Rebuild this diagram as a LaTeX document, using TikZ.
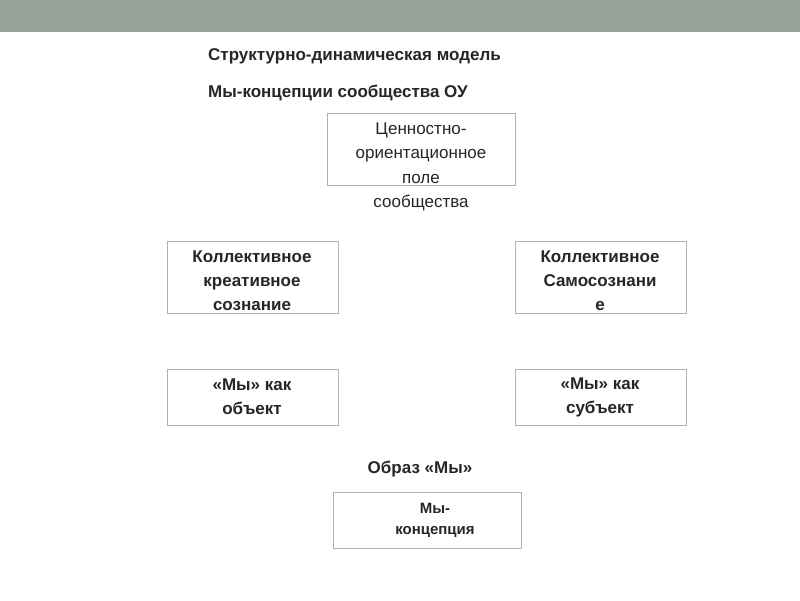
\documentclass[tikz,border=0pt]{standalone}
\usepackage{fontspec}
\setmainfont{Liberation Sans}
\begin{document}
\begin{tikzpicture}[x=1pt,y=-1pt,
  box/.style={draw=gray!60,line width=0.8pt,fill=white},
  txt/.style={align=center,text=black!85,inner sep=0pt},
  bold/.style={txt,font=\bfseries\fontsize{17}{24}\selectfont},
  reg/.style={txt,font=\fontsize{17}{24.5}\selectfont}]
\useasboundingbox (0,0) rectangle (800,600);
\fill[white] (0,0) rectangle (800,600);
\fill[color={rgb,255:red,150;green,164;blue,154}] (0,0) rectangle (800,32);
\node[bold,anchor=west] (t1) at (208,56) {Структурно-динамическая модель};
\node[bold,anchor=west] (t2) at (208,93) {Мы-концепции сообщества ОУ};
\draw[box] (327,113) rectangle (515,185);
\node[reg] (v) at (421,167) {Ценностно-\\ориентационное\\поле\\сообщества};
\draw[box] (167,241) rectangle (338,313);
\node[bold] (k1) at (252,281) {Коллективное\\креативное\\сознание};
\draw[box] (515,241) rectangle (686,313);
\node[bold] (k2) at (600,281) {Коллективное\\Самосознани\\е};
\draw[box] (167,369) rectangle (338,425);
\node[bold] (o) at (252,397) {«Мы» как\\объект};
\draw[box] (515,369) rectangle (686,425);
\node[bold] (s) at (600,397) {«Мы» как\\субъект};
\node[bold] (obr) at (420,469) {Образ «Мы»};
\draw[box] (333,492) rectangle (521,548);
\node[txt,font=\bfseries\fontsize{15}{21}\selectfont] (m) at (435,520) {Мы-\\концепция};
\end{tikzpicture}
\end{document}
